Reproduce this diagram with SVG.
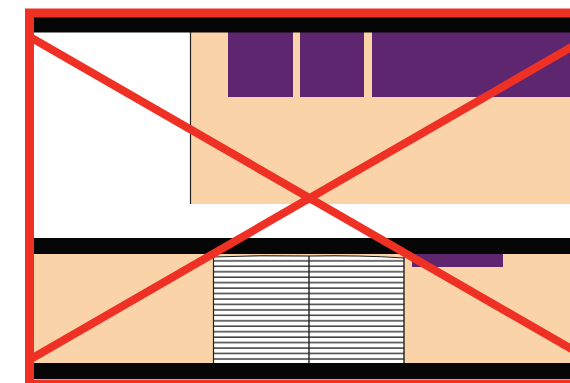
<svg xmlns="http://www.w3.org/2000/svg" width="570" height="383" viewBox="0 0 570 383">
<style>
.peach{fill:#FBD3A9}
.purple{fill:#5F2670}
.bar{fill:#060606}
.red{stroke:#EE3124;fill:none}
</style>
<defs>
<pattern id="h" x="0" y="258" width="10" height="5.45" patternUnits="userSpaceOnUse">
<rect width="10" height="5.45" fill="#fff"/>
<rect y="2.2" width="10" height="1.3" fill="#222"/>
</pattern>
</defs>
<rect width="570" height="383" fill="#fff"/>
<g id="upper-area">
<rect class="peach" x="190" y="32" width="380" height="172"/>
<line x1="190.5" y1="32" x2="190.5" y2="204" stroke="#222" stroke-width="1.2"/>
</g>
<g id="purple-boxes">
<rect class="purple" x="228" y="32" width="65" height="65"/>
<rect class="purple" x="300" y="32" width="64" height="65"/>
<rect class="purple" x="372" y="32" width="198" height="65"/>
</g>
<g id="lower-area">
<rect class="peach" x="34" y="254" width="536" height="109"/>
</g>
<g id="hatched-block">
<path d="M213 257 Q260 255 309 256 Q360 255 404 258 L404 363 L213 363 Z" fill="url(#h)"/>
<path d="M213 257 Q260 255 309 256 Q360 255 404 258" fill="none" stroke="#222" stroke-width="1"/>
<line x1="213.5" y1="256" x2="213.5" y2="363" stroke="#222" stroke-width="1.2"/>
<line x1="309" y1="256" x2="309" y2="363" stroke="#222" stroke-width="1.4"/>
<line x1="404" y1="257" x2="404" y2="363" stroke="#222" stroke-width="1.4"/>
</g>
<g id="small-bar">
<rect class="purple" x="412" y="253" width="91" height="14"/>
</g>
<g id="bars">
<rect class="bar" x="34" y="17" width="536" height="15.5"/>
<rect class="bar" x="34" y="238" width="536" height="16"/>
<rect class="bar" x="34" y="363" width="536" height="16"/>
</g>
<g id="connectors">
<line class="red" x1="30" y1="37" x2="575" y2="351" stroke-width="8"/>
<line class="red" x1="30" y1="359.5" x2="575" y2="45" stroke-width="8"/>
</g>
<g id="frame">
<rect class="red" x="29.5" y="13" width="560" height="371" stroke-width="9"/>
</g>
</svg>
